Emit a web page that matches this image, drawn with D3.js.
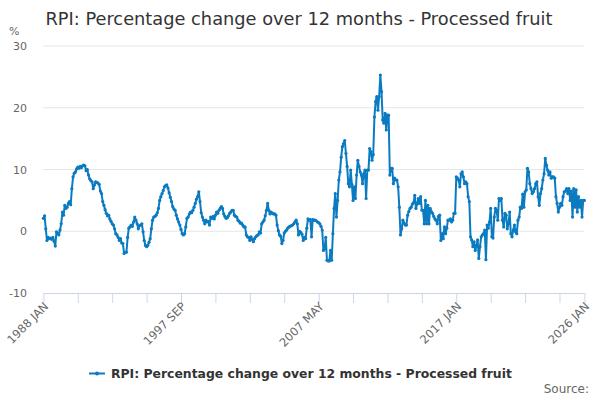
<!DOCTYPE html>
<html>
<head>
<meta charset="utf-8">
<script src="https://cdn.jsdelivr.net/npm/d3@7"></script>
<style>
  body { margin: 0; background: #fff; }
  text { font-family: "DejaVu Sans", sans-serif; }
</style>
</head>
<body>
<div id="chart"></div>
<script>
// chart data: monthly values, 1988 JAN to 2026 JAN
var monthNames = ["JAN", "FEB", "MAR", "APR", "MAY", "JUN", "JUL", "AUG", "SEP", "OCT", "NOV", "DEC"];
var startYear = 1988;
var values = [
  2.1, 2.5, 0.4, -1.5, -1.0, -1.2, -1.1, -1.3, -1.0, -1.6, -2.4, -0.1,   // 1988
  -0.3, -0.6, 0.2, 1.2, 3.1, 2.6, 4.2, 3.7, 3.9, 4.5, 4.8, 4.3,          // 1989
  6.9, 8.8, 9.4, 9.6, 10.1, 10.4, 10.2, 10.5, 10.3, 10.6, 10.7, 10.6,    // 1990
  9.8, 10.0, 9.1, 8.5, 8.2, 8.0, 6.9, 7.5, 8.0, 7.9, 7.8, 7.6,           // 1991
  6.5, 6.1, 4.8, 4.2, 3.5, 2.9, 2.5, 2.6, 2.0, 1.6, 1.2, 1.0,            // 1992
  0.4, -0.4, -0.6, -1.0, -1.5, -1.2, -1.9, -2.0, -3.6, -3.4, -3.4, -1.0, // 1993
  0.5, 0.7, 1.0, 0.8, 1.5, 2.3, 1.8, 1.2, 0.4, 0.9, 1.0, 1.2,            // 1994
  -0.1, -1.5, -2.3, -2.5, -2.3, -1.8, -1.2, 0.4, 1.8, 2.3, 2.4, 2.6,     // 1995
  3.0, 3.7, 5.0, 5.6, 6.1, 6.6, 7.2, 7.4, 7.5, 7.0, 6.2, 5.5,            // 1996
  4.8, 4.0, 3.6, 3.4, 2.6, 2.0, 1.5, 1.0, 0.3, -0.4, -0.6, -0.4,         // 1997
  0.7, 2.1, 2.3, 2.8, 3.1, 3.0, 3.4, 3.9, 4.5, 5.2, 5.6, 6.4,            // 1998
  4.8, 3.0, 2.3, 1.8, 1.2, 1.8, 1.5, 1.6, 1.0, 2.3, 2.1, 2.4,            // 1999
  2.0, 2.6, 3.1, 2.9, 3.4, 3.7, 4.0, 3.7, 2.8, 2.4, 2.1, 2.2,            // 2000
  2.5, 2.9, 3.1, 3.4, 3.4, 2.6, 2.4, 2.3, 1.8, 1.6, 1.3, 1.3,            // 2001
  1.0, 0.7, 0.7, -0.6, -0.9, -1.0, -1.5, -0.9, -1.3, -1.7, -1.2, -0.9,   // 2002
  -0.7, -0.6, -0.1, -0.3, 1.2, 1.5, 1.8, 2.5, 3.4, 4.5, 3.4, 2.8,        // 2003
  3.1, 2.9, 2.8, 2.8, 2.6, 1.0, 0.1, -0.6, -0.8, -2.0, -1.5, -0.3,       // 2004
  0.0, 0.2, 0.5, 0.7, 0.8, 0.9, 1.0, 1.2, 1.5, 1.8, 1.2, -0.6,           // 2005
  0.0, -0.2, -0.5, -1.5, -1.0, -1.2, 0.5, 2.0, 1.8, 1.9, -0.9, 1.9,      // 2006
  1.8, 1.8, 1.7, 1.5, 1.4, 1.2, 0.8, 0.2, -3.1, -2.9, -1.0, -4.7,        // 2007
  -4.8, -4.8, -3.1, -4.7, -0.4, 3.7, 6.1, 2.3, 5.0, 8.3, 9.6, 12.0,      // 2008
  13.7, 14.2, 14.7, 12.6, 10.5, 7.7, 7.2, 9.9, 7.6, 5.0, 7.2, 5.3,       // 2009
  9.1, 11.5, 10.5, 9.6, 9.1, 7.7, 9.3, 9.9, 5.3, 9.9, 9.9, 13.4,         // 2010
  12.9, 11.5, 12.4, 18.5, 21.0, 21.8, 19.6, 21.8, 25.3, 22.6, 18.0, 17.5, // 2011
  19.1, 16.4, 18.8, 18.8, 9.1, 10.2, 10.2, 7.7, 8.6, 8.3, 8.3, 7.2,      // 2012
  3.9, -0.6, 0.4, 1.8, 1.3, 1.0, 1.0, 2.6, 3.2, 3.7, 3.9, 4.4,           // 2013
  4.6, 5.8, 3.7, 4.4, 5.3, 4.5, 5.6, 3.4, 3.4, 1.2, 5.0, 1.2,            // 2014
  4.2, 1.2, 3.7, 3.2, 2.9, 2.4, 2.0, 1.8, 1.2, 2.4, 2.6, -1.5,           // 2015
  -0.4, -1.2, 0.7, -0.4, 0.5, 1.8, 1.8, 2.0, 1.5, 1.8, 2.9, 2.9,         // 2016
  8.8, 8.6, 8.3, 7.2, 9.3, 9.6, 8.8, 7.7, 8.0, 7.7, 5.6, 4.8,            // 2017
  -0.9, -1.4, -2.5, -1.7, -3.1, -2.3, -1.4, -4.4, -2.5, -0.9, -0.6, -0.4, // 2018
  0.2, -4.6, 1.0, 0.5, 1.5, 3.7, -0.9, -1.1, 2.3, 3.7, 3.4, 1.8,         // 2019
  5.3, 5.0, 5.3, 1.8, 0.7, 2.9, 2.6, 0.4, 1.2, 3.1, -0.4, -0.9,          // 2020
  0.2, 1.0, -0.1, -0.4, 1.8, 2.3, 3.9, 3.7, 6.0, 3.9, 6.4, 6.7,          // 2021
  10.2, 9.6, 7.7, 6.9, 6.1, 6.4, 6.9, 7.7, 8.0, 5.6, 4.2, 6.1,           // 2022
  6.9, 8.3, 9.3, 11.8, 10.7, 9.9, 9.1, 9.6, 8.6, 8.8, 8.8, 8.6,          // 2023
  5.6, 4.5, 3.1, 3.9, 4.5, 4.2, 5.6, 6.4, 6.5, 6.9, 6.1, 6.9,            // 2024
  5.0, 6.5, 2.3, 6.9, 3.9, 6.7, 3.1, 5.6, 3.9, 5.0, 2.3, 5.0,            // 2025
  5.0                                                                    // 2026
];
var months = values.map(function(d, i) {
  return (startYear + Math.floor(i / 12)) + " " + monthNames[i % 12];
});
var yTicks = [-10, 0, 10, 20, 30];
var tickEvery = 29;   // a tick every 29 months
var labelEvery = 116; // a label every 4th tick

var titleText = "RPI: Percentage change over 12 months - Processed fruit";
var seriesName = "RPI: Percentage change over 12 months - Processed fruit";
var lineColor = "#0b7bc1";

var width = 600, height = 400;
var margin = {top: 46, right: 15.6, bottom: 107, left: 43.4};

var svg = d3.select("#chart")
    .append("svg")
    .attr("width", width)
    .attr("height", height);

var x = d3.scalePoint()
    .domain(months)
    .range([margin.left, width - margin.right]);

var y = d3.scaleLinear()
    .domain([-10, 30])
    .range([height - margin.bottom, margin.top]);

// title
svg.append("text")
    .attr("x", 299)
    .attr("y", 25)
    .attr("text-anchor", "middle")
    .style("font-size", "17.8px")
    .style("fill", "#333")
    .text(titleText);

// unit
svg.append("text")
    .attr("x", 9)
    .attr("y", 35)
    .style("font-size", "11px")
    .style("fill", "#666")
    .text("%");

// gridlines and y labels
svg.append("g")
    .selectAll("line")
    .data(yTicks.filter(function(d) { return d > -10; }))
    .enter()
    .append("line")
    .attr("x1", margin.left)
    .attr("x2", width - margin.right)
    .attr("y1", function(d) { return y(d); })
    .attr("y2", function(d) { return y(d); })
    .attr("stroke", "#e6e6e6")
    .attr("stroke-width", 1);

svg.append("g")
    .selectAll("text")
    .data(yTicks)
    .enter()
    .append("text")
    .attr("x", 27)
    .attr("y", function(d) { return y(d) + 4; })
    .attr("text-anchor", "end")
    .style("font-size", "11px")
    .style("fill", "#666")
    .text(function(d) { return d; });

// x axis
var tickIdx = d3.range(0, months.length, tickEvery);
if (tickIdx[tickIdx.length - 1] !== months.length - 1) tickIdx.push(months.length - 1);
var labelIdx = d3.range(0, months.length, labelEvery);
if (labelIdx[labelIdx.length - 1] !== months.length - 1) labelIdx.push(months.length - 1);

var xAxis = d3.axisBottom(x)
    .tickValues(tickIdx.map(function(i) { return months[i]; }))
    .tickSize(10)
    .tickFormat(function(d) { return labelIdx.indexOf(months.indexOf(d)) >= 0 ? d : ""; });

var gx = svg.append("g")
    .attr("transform", "translate(0," + y(-10) + ")")
    .call(xAxis);
gx.select(".domain").attr("stroke", "#ccd6eb").attr("d", "M" + margin.left + ",0.5H" + (width - margin.right));
gx.selectAll(".tick line").attr("stroke", "#ccd6eb");
gx.selectAll(".tick text")
    .style("font-size", "11.5px")
    .style("fill", "#666")
    .style("font-family", "DejaVu Sans, sans-serif")
    .attr("text-anchor", "end")
    .attr("transform", "translate(-4,5)rotate(-45)")
    .attr("dy", "0.35em")
    .attr("y", 9);

// line
var line = d3.line()
    .x(function(d, i) { return x(months[i]); })
    .y(function(d) { return y(d); });

svg.append("path")
    .datum(values)
    .attr("fill", "none")
    .attr("stroke", lineColor)
    .attr("stroke-width", 2)
    .attr("stroke-linejoin", "round")
    .attr("d", line);

svg.append("g")
    .selectAll("circle")
    .data(values)
    .enter()
    .append("circle")
    .attr("cx", function(d, i) { return x(months[i]); })
    .attr("cy", function(d) { return y(d); })
    .attr("r", 1.6)
    .attr("fill", lineColor);

// legend
var legend = svg.append("g").attr("transform", "translate(89,373.5)");
legend.append("line")
    .attr("x1", 0).attr("x2", 16)
    .attr("stroke", lineColor)
    .attr("stroke-width", 2);
legend.append("circle")
    .attr("cx", 8).attr("r", 2)
    .attr("fill", lineColor);
legend.append("text")
    .attr("x", 22)
    .attr("y", 4.5)
    .style("font-size", "12.4px")
    .style("font-weight", "bold")
    .style("fill", "#333")
    .text(seriesName);

// source
svg.append("text")
    .attr("x", 589)
    .attr("y", 393)
    .attr("text-anchor", "end")
    .style("font-size", "12px")
    .style("fill", "#666")
    .text("Source:");
</script>
</body>
</html>
